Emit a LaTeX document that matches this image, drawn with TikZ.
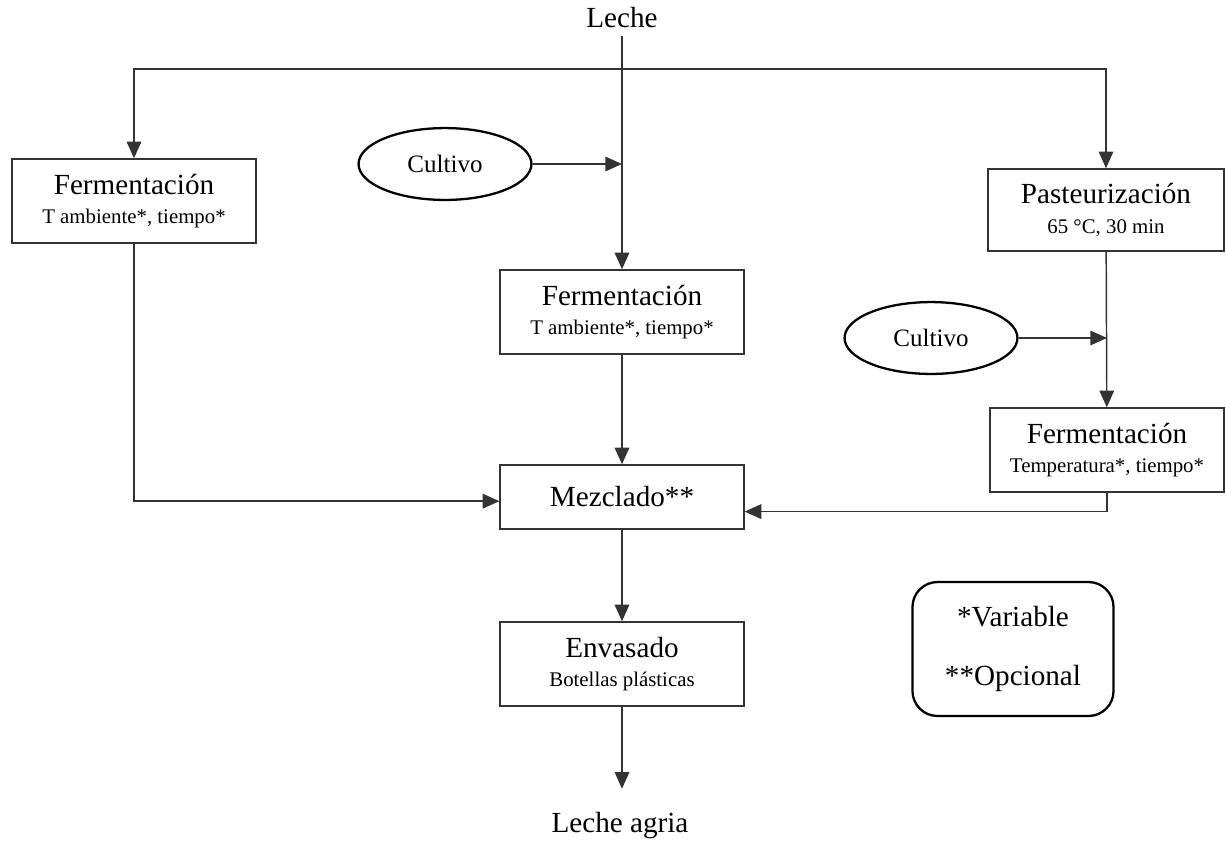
\documentclass[tikz,border=0pt]{standalone}
\usepackage{fontspec}
\setmainfont{Liberation Serif}
\usetikzlibrary{arrows.meta, shapes.geometric}

\newcommand{\chico}{\fontsize{10}{12}\selectfont}

\begin{document}
\begin{tikzpicture}[x=0.48pt, y=-0.48pt,
    proceso/.style={draw=black!80, line width=0.7pt, align=center, inner sep=1pt,
        minimum width=117pt, minimum height=40.3pt, font=\fontsize{14}{16}\selectfont},
    cultivo/.style={draw, ellipse, line width=1.1pt, inner sep=0pt,
        minimum width=83pt, minimum height=34.5pt, font=\fontsize{12}{14}\selectfont},
    flecha/.style={draw=black!80, line width=0.7pt, -{Triangle[length=8pt,width=7pt]}}]
        \useasboundingbox (0,0) rectangle (1226,841);

        \node[font=\fontsize{14}{16}\selectfont] (leche) at (622,18) {Leche};
        \coordinate (reparto) at (622,69);

        \node[proceso] (fermA) at (134,201) {Fermentación\\[-2pt]{\chico T ambiente*, tiempo*}};
        \node[cultivo] (cultA) at (445,164) {Cultivo};
        \node[proceso] (fermB) at (622,312) {Fermentación\\[-2pt]{\chico T ambiente*, tiempo*}};
        \node[proceso, minimum width=113.3pt, minimum height=39.4pt] (pasteur) at (1106,210) {Pasteurización\\[-2pt]{\chico 65 °C, 30 min}};
        \node[cultivo] (cultB) at (931,338) {Cultivo};
        \node[proceso, minimum width=112.3pt] (fermC) at (1107,450) {Fermentación\\[-2pt]{\chico Temperatura*, tiempo*}};
        \node[proceso, minimum height=30.7pt] (mezcla) at (622,497) {Mezclado**};
        \node[proceso] (envase) at (622,664) {Envasado\\[-2pt]{\chico Botellas plásticas}};
        \node[font=\fontsize{14}{16}\selectfont] (agria) at (620,826) {Leche agria};

        \node[draw, line width=1.1pt, rounded corners=12pt, align=center,
            minimum width=96.5pt, minimum height=64.3pt,
            font=\fontsize{14}{16}\selectfont] (nota) at (1013,649) {*Variable\\[12pt]**Opcional};

        \draw[flecha] (leche) -- (fermB);
        \draw[flecha] (reparto) -| (fermA);
        \draw[flecha] (reparto) -| (pasteur);
        \draw[flecha] (cultA) -- (cultA -| fermB.north);
        \draw[flecha] (fermA) |- ([yshift=-2pt]mezcla.west);
        \draw[flecha] (fermB) -- (mezcla);
        \draw[flecha] (pasteur) -- (fermC);
        \draw[flecha] (cultB) -- (cultB -| fermC.north);
        \draw[flecha] (fermC) |- ([yshift=-7pt]mezcla.east);
        \draw[flecha] (mezcla) -- (envase);
        \draw[flecha, shorten >=8pt] (envase) -- (envase |- agria.north);

    \end{tikzpicture}
\end{document}
